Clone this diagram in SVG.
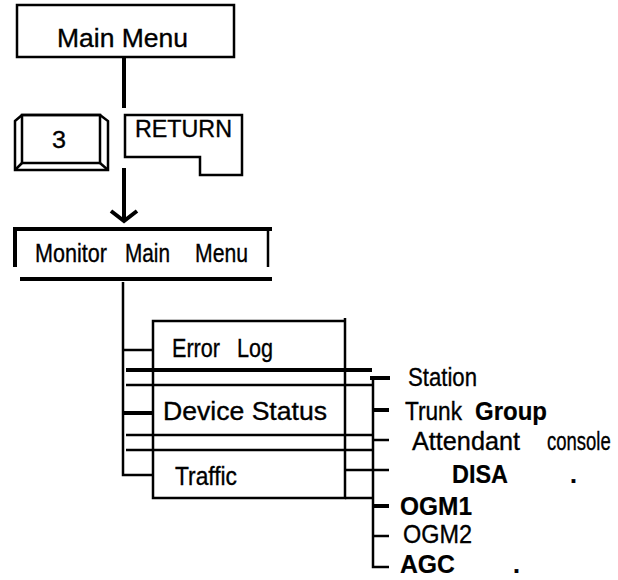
<svg xmlns="http://www.w3.org/2000/svg" width="618" height="580" viewBox="0 0 618 580">
<style>
.t{font-family:"Liberation Sans",Arial,sans-serif;font-size:26px;fill:#000;stroke:#000;stroke-width:0.35}
.b{font-weight:bold;stroke-width:0.2}
.ln{stroke:#000;fill:none;stroke-width:2.5}
.th{stroke:#000;fill:none;stroke-width:4}
</style>
<rect width="618" height="580" fill="#fff"/>
<g id="connectors">
<line class="th" x1="124" y1="57" x2="124" y2="108"/>
<line class="th" x1="124" y1="168" x2="124" y2="220"/>
<polyline class="th" points="111,211 124,221 137,211"/>
<polyline class="ln" points="123,282 123,475 153,475"/>
<line class="ln" x1="123" y1="350" x2="153" y2="350"/>
<line class="th" x1="123" y1="413" x2="152" y2="413"/>
<line class="th" x1="126" y1="370" x2="372" y2="370"/>
<line class="ln" x1="126" y1="385" x2="373" y2="385"/>
<line class="ln" x1="126" y1="435" x2="373" y2="435"/>
<line class="ln" x1="126" y1="450" x2="373" y2="450"/>
<polyline class="ln" points="373,380 373,567 389,567"/>
<line class="th" x1="370" y1="378" x2="390" y2="378"/>
<line class="th" x1="373" y1="410" x2="389" y2="410"/>
<line class="ln" x1="373" y1="440" x2="389" y2="440"/>
<line class="ln" x1="344" y1="470" x2="389" y2="470"/>
<line class="ln" x1="345" y1="498" x2="373" y2="498"/>
<line class="th" x1="373" y1="506" x2="389" y2="506"/>
<line class="ln" x1="373" y1="536" x2="389" y2="536"/>
</g>
<g id="main-menu">
<rect class="ln" x="17" y="5" width="217" height="52"/>
<text class="t" x="57" y="47" textLength="131" lengthAdjust="spacingAndGlyphs">Main Menu</text>
</g>
<g id="key-3">
<polygon class="ln" points="15,121 22,115 100,115 108,121 108,170 15,170"/>
<rect class="ln" x="22" y="115" width="78" height="48"/>
<line class="ln" x1="15" y1="170" x2="22" y2="163"/>
<line class="ln" x1="108" y1="170" x2="100" y2="163"/>
<text class="t" x="52" y="148" style="font-size:24px" textLength="14" lengthAdjust="spacingAndGlyphs">3</text>
</g>
<g id="key-return">
<polygon class="ln" points="125,115 242,115 242,175 200,175 200,157 125,157"/>
<text class="t" x="135" y="137" style="font-size:23.5px" textLength="97" lengthAdjust="spacingAndGlyphs">RETURN</text>
</g>
<g id="monitor-main-menu">
<polyline class="th" points="15,267 15,229 272,229"/>
<line class="ln" x1="268" y1="229" x2="268" y2="267"/>
<line class="th" x1="20" y1="279" x2="272" y2="279"/>
<text class="t" x="35" y="262" textLength="72" lengthAdjust="spacingAndGlyphs">Monitor</text>
<text class="t" x="125" y="262" textLength="45" lengthAdjust="spacingAndGlyphs">Main</text>
<text class="t" x="195" y="262" textLength="53" lengthAdjust="spacingAndGlyphs">Menu</text>
</g>
<g id="submenu">
<polyline class="ln" points="345,318 345,498 153,498 153,321 345,321"/>
</g>
<g id="error-log">
<text class="t" x="172" y="357" textLength="48" lengthAdjust="spacingAndGlyphs">Error</text>
<text class="t" x="237" y="357" textLength="36" lengthAdjust="spacingAndGlyphs">Log</text>
</g>
<g id="device-status">
<text class="t" x="163" y="420" style="font-size:25px" textLength="164" lengthAdjust="spacingAndGlyphs">Device Status</text>
</g>
<g id="traffic">
<text class="t" x="175" y="485" style="font-size:25px" textLength="62" lengthAdjust="spacingAndGlyphs">Traffic</text>
</g>
<g id="station"><text class="t" x="408" y="386" textLength="69" lengthAdjust="spacingAndGlyphs">Station</text></g>
<g id="trunk-group">
<text class="t" x="405" y="420" textLength="57" lengthAdjust="spacingAndGlyphs">Trunk</text>
<text class="t b" x="475" y="420" textLength="72" lengthAdjust="spacingAndGlyphs">Group</text>
</g>
<g id="attendant-console">
<text class="t" x="412" y="450" textLength="108" lengthAdjust="spacingAndGlyphs">Attendant</text>
<text class="t" transform="translate(547,450) scale(0.74,1)" x="0" y="0" style="font-size:25px">console</text>
</g>
<g id="disa">
<text class="t b" x="452" y="483" style="font-size:25px" textLength="56" lengthAdjust="spacingAndGlyphs">DISA</text>
<text class="t b" x="570" y="483" style="font-size:25px">.</text>
</g>
<g id="ogm1"><text class="t b" x="400" y="515" style="font-size:25px" textLength="72" lengthAdjust="spacingAndGlyphs">OGM1</text></g>
<g id="ogm2"><text class="t" x="403" y="543" textLength="69" lengthAdjust="spacingAndGlyphs">OGM2</text></g>
<g id="agc">
<text class="t b" x="400" y="573" textLength="55" lengthAdjust="spacingAndGlyphs">AGC</text>
<text class="t b" x="513" y="573" style="font-size:25px">.</text>
</g>
</svg>
